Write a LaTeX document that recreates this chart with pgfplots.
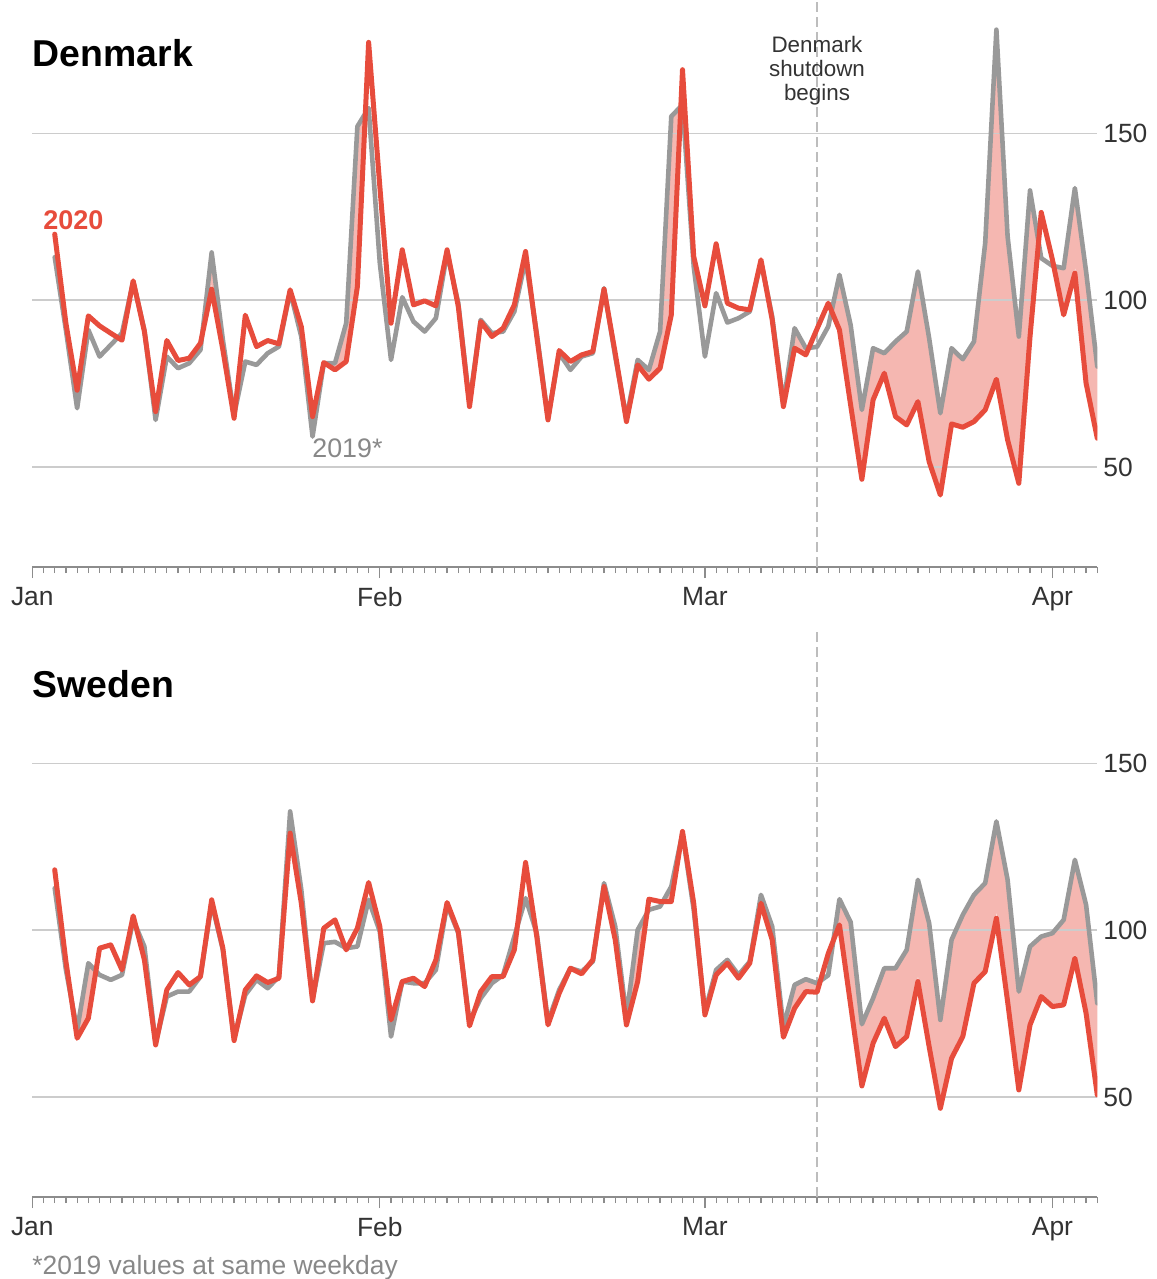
\documentclass[border=0pt]{standalone}
\usepackage{pgfplots}
\pgfplotsset{compat=1.18}
\usepackage{pgfplotstable}
\usepackage{fontspec}
\setmainfont{Liberation Sans}
\definecolor{redc}{HTML}{E74C3C}
\definecolor{greyc}{HTML}{999999}
\definecolor{pinkc}{HTML}{F5B7B1}
\definecolor{axisgrey}{HTML}{8C8C8C}
\definecolor{gridgrey}{HTML}{CCCCCC}
\definecolor{labelc}{HTML}{333333}
\definecolor{notec}{HTML}{888888}
\definecolor{dashgrey}{HTML}{BDBDBD}

\pgfplotstableread{
d r g
2 119.8 112.9
3 93 91
4 73 67.6
5 95.3 91.1
6 92.3 83.1
7 90.1 86.6
8 88 90.1
9 105.8 105.6
10 90.6 91
11 66.6 64.1
12 87.9 83.1
13 81.9 79.6
14 82.6 81.1
15 87.1 85.1
16 103.3 114.3
17 85.1 88.1
18 64.6 65.6
19 95.5 81.6
20 86.1 80.6
21 87.9 84.1
22 86.9 86.1
23 103.1 102.6
24 92 89
25 65.1 59.1
26 81.3 81.1
27 79.1 81.1
28 81.6 93.1
29 104.1 152.1
30 177.3 157.6
31 134.1 111.1
32 93.1 82.1
33 115.1 100.9
34 98.6 93.6
35 99.8 90.6
36 98.3 94.6
37 115.1 114.1
38 98.1 99.1
39 68.1 69.1
40 93.6 94.1
41 89.1 90.1
42 91.6 90.6
43 98.6 96.6
44 114.6 112.1
45 89.1 90.1
46 64.1 64.6
47 84.9 84.1
48 81.6 79.1
49 83.6 83.1
50 84.6 84.1
51 103.3 103.6
52 84.1 83.1
53 63.6 64.6
54 80.6 82.1
55 76.3 79.1
56 79.6 90.6
57 95.6 155.1
58 169.1 158.6
59 113.1 110.1
60 98.3 83.1
61 116.9 102.1
62 99.1 93.3
63 97.6 94.6
64 97.1 96.6
65 112.1 111.6
66 94.1 95.1
67 68.1 69.1
68 85.6 91.6
69 83.6 85.6
70 91.4 86
71 99.1 92.1
72 91.1 107.6
73 68.5 92.5
74 46.3 67.1
75 70.1 85.6
76 78.1 84.1
77 65.1 87.6
78 62.6 90.6
79 69.6 108.6
80 51.6 88.6
81 41.6 66.1
82 62.9 85.6
83 61.9 82.3
84 63.6 87.6
85 67.1 117.1
86 76.3 181.1
87 58.1 119.1
88 45.1 89.1
89 89.1 132.9
90 126.3 112.6
91 112.1 110.3
92 95.6 109.6
93 108.1 133.6
94 75.1 108.6
95 58.6 80.1
}\dk

\pgfplotstableread{
d r g
2 118.1 112.6
3 90.6 88.1
4 67.6 70.1
5 73.6 90.1
6 94.6 86.6
7 95.6 85.1
8 88.1 86.6
9 104.3 103.1
10 91.1 95.1
11 65.6 66.1
12 82.1 80.1
13 87.3 81.6
14 83.6 81.6
15 86.1 86.1
16 109.1 108.1
17 94.6 94.1
18 66.9 67.6
19 82.1 80.6
20 86.3 85.1
21 84.3 82.6
22 85.6 86.1
23 129.1 135.6
24 108 112
25 78.8 79.1
26 100.6 96.1
27 103.1 96.5
28 94.1 94.6
29 100.6 95.1
30 114.3 109.1
31 101.1 99.6
32 73.1 68.1
33 84.6 84.6
34 85.6 84.1
35 83.1 84.1
36 91.1 88.1
37 108.3 107.6
38 99.6 99.1
39 71.3 72.6
40 81.6 79.6
41 86.1 84.1
42 86.1 86.6
43 94.1 98.1
44 120.3 109.6
45 98.1 99.1
46 71.6 72.6
47 81.1 82.1
48 88.6 88.6
49 86.9 87.6
50 91.1 90.6
51 113.1 114.1
52 97.1 101.1
53 71.6 74.1
54 84.6 100.1
55 109.3 106.1
56 108.6 107.1
57 108.6 113.1
58 129.6 129.1
59 108.1 106.1
60 74.6 75.6
61 86.6 88.1
62 90.1 91.1
63 85.6 86.6
64 90.1 90.6
65 108.1 110.6
66 97.1 101.1
67 67.9 71.1
68 76.6 83.6
69 81.6 85.3
70 81.4 84.1
71 93 86.5
72 101.6 109.3
73 77.5 102.4
74 53.3 71.8
75 66.1 79.6
76 73.6 88.6
77 65.1 88.6
78 68.1 94.1
79 84.6 115.1
80 65.1 102.1
81 46.6 73.1
82 61.6 97.1
83 68.1 104.6
84 84.1 110.6
85 87.6 114.1
86 103.6 132.6
87 78.6 115.1
88 52.1 81.6
89 71.6 95.1
90 80.1 98.1
91 77.1 99.1
92 77.6 103.1
93 91.6 121.1
94 75.1 107.6
95 50.6 78.1
}\se

\pgfplotsset{
  panel/.style={
    scale only axis, width=532.5pt, height=283.5pt,
    xmin=0, xmax=95, ymin=20, ymax=190,
    set layers,
    axis x line*=bottom, axis y line*=right,
    y axis line style={draw=none},
    x axis line style={draw=axisgrey, line width=1pt},
    xtick={0,31,60,91}, xticklabels={Jan,Feb,Mar,Apr},
    minor xtick={0,1,...,95},
    tick align=outside,
    major tick length=5.5pt, minor tick length=3pt,
    xtick style={draw=axisgrey, line width=0.6pt},
    ytick={50,100,150}, ytick style={draw=none},
    ymajorgrids, grid style={draw=gridgrey, line width=0.7pt},
    tick label style={font=\fontsize{13.2}{14}\selectfont, text=labelc},
    xticklabel style={yshift=-1pt},
    yticklabel style={xshift=-6pt},
    /pgf/number format/assume math mode=true,
  },
  redline/.style={draw=redc, line width=2.5pt, line join=round, line cap=round},
  greyline/.style={draw=greyc, line width=2.3pt, line join=round, line cap=round},
  dashline/.style={draw=dashgrey, line width=1.3pt, dash pattern=on 5pt off 2.5pt},
  pinkfill/.style={fill=pinkc, draw=none, on layer=axis background},
  whitefill/.style={fill=white, draw=white, line width=0.8pt, on layer=axis background},
}

\begin{document}
\begin{tikzpicture}

\begin{axis}[panel, at={(16.15pt,-283.5pt)}, anchor=south west]
\addplot[pinkfill] table[x=d, y=g] {\dk} \closedcycle;
\addplot[whitefill] table[x=d, y=r] {\dk} \closedcycle;
\addplot[dashline] coordinates {(70,20) (70,190)};
\addplot[greyline] table[x=d, y=g] {\dk};
\addplot[redline] table[x=d, y=r] {\dk};
\end{axis}

\begin{axis}[panel, at={(16.15pt,-598.5pt)}, anchor=south west]
\addplot[pinkfill] table[x=d, y=g] {\se} \closedcycle;
\addplot[whitefill] table[x=d, y=r] {\se} \closedcycle;
\addplot[dashline] coordinates {(70,20) (70,190)};
\addplot[greyline] table[x=d, y=g] {\se};
\addplot[redline] table[x=d, y=r] {\se};
\end{axis}

\node[anchor=base west, inner sep=0pt, font=\bfseries\fontsize{18.7}{20}\selectfont] at (16.2pt,-33.3pt) {Denmark};
\node[anchor=base west, inner sep=0pt, font=\bfseries\fontsize{18.7}{20}\selectfont] at (16.2pt,-348.6pt) {Sweden};
\node[anchor=base west, inner sep=0pt, font=\bfseries\fontsize{13.5}{14}\selectfont, text=redc] at (21.5pt,-114.65pt) {2020};
\node[anchor=base west, inner sep=0pt, font=\fontsize{13.4}{14}\selectfont, text=notec] at (156pt,-228.65pt) {2019*};
\node[anchor=base, inner sep=0pt, font=\fontsize{11.2}{12}\selectfont, text=labelc] at (408.5pt,-26.2pt) {Denmark};
\node[anchor=base, inner sep=0pt, font=\fontsize{11.2}{12}\selectfont, text=labelc] at (408.5pt,-38.3pt) {shutdown};
\node[anchor=base, inner sep=0pt, font=\fontsize{11.2}{12}\selectfont, text=labelc] at (408.5pt,-50.4pt) {begins};
\node[anchor=base west, inner sep=0pt, font=\fontsize{13.2}{14}\selectfont, text=notec] at (16pt,-637pt) {*2019 values at same weekday};
\pgfresetboundingbox
\useasboundingbox (0pt,0pt) rectangle (578pt,-639.5pt);
\end{tikzpicture}
\end{document}
